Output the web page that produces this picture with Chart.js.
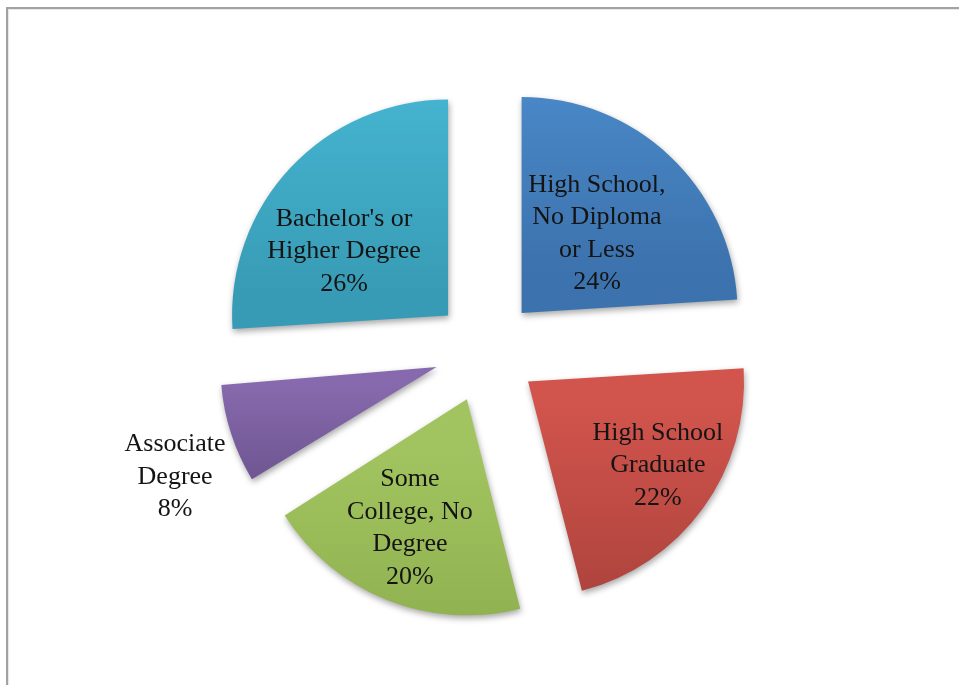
<!DOCTYPE html>
<html>
<head>
<meta charset="utf-8">
<script src="https://cdn.jsdelivr.net/npm/chart.js@4"></script>
<style>
  html, body { margin: 0; padding: 0; background: #ffffff; }
  #wrap { position: relative; width: 959px; height: 685px; overflow: hidden; background: #ffffff; }
  #frame { position: absolute; left: 6px; top: 7px; right: -10px; bottom: -10px;
           border-top: 2px solid #a2a2a2; border-left: 2px solid #a2a2a2;
           box-shadow: inset 1px 1px 1px rgba(0,0,0,0.10); }
  canvas { position: absolute; left: 0; top: 0; }
</style>
</head>
<body>
<div id="wrap">
  <div id="frame"></div>
  <canvas id="chart" width="959" height="685"></canvas>
</div>
<script>
// Educational attainment shares, clockwise from 12 o'clock
const categories = [
  ["High School,", "No Diploma", "or Less"],
  ["High School", "Graduate"],
  ["Some", "College, No", "Degree"],
  ["Associate", "Degree"],
  ["Bachelor's or", "Higher Degree"]
];
const shares = [24, 22, 20, 8, 26];

// slice fills: light at the top edge, deeper towards the bottom
const sliceTop    = ['#4b8bcb', '#d2554d', '#a2c460', '#876aad', '#47b8d4'];
const sliceBottom = ['#3c72ad', '#a9413b', '#8cad4c', '#6a518c', '#389bb5'];

// label placement around each exploded slice: angle turn (deg) and reach (share of radius)
const labelTurn  = [0.3, -3.2, 2.2, -4.8, -11.7];
const labelReach = [0.507, 0.715, 0.653, 1.313, 0.565];

const RADIUS = 216;   // pie radius in px
const PUSH = 52;      // how far each slice is pulled out from the centre
const LINE = 32.5;    // label line spacing

const pieDressing = {
  id: 'pieDressing',
  beforeDatasetsDraw(chart) {
    const ctx = chart.ctx;
    chart.getDatasetMeta(0).data.forEach((arc, i) => {
      // Chart.js grows narrow exploded slices; keep every slice at the same radius
      const fix = 1 - Math.sin(Math.min(Math.PI, arc.circumference));
      arc.outerRadius = RADIUS - PUSH * fix;
      const mid = (arc.startAngle + arc.endAngle) / 2;
      const cy = arc.y + Math.sin(mid) * PUSH;
      let ymin = cy, ymax = cy;
      for (let k = 0; k <= 24; k++) {
        const a = arc.startAngle + (arc.endAngle - arc.startAngle) * k / 24;
        const y = cy + Math.sin(a) * RADIUS;
        ymin = Math.min(ymin, y); ymax = Math.max(ymax, y);
      }
      const g = ctx.createLinearGradient(0, ymin, 0, ymax);
      g.addColorStop(0, sliceTop[i]);
      g.addColorStop(1, sliceBottom[i]);
      arc.options.backgroundColor = g;
    });
    ctx.save();
    ctx.shadowColor = 'rgba(0,0,0,0.35)';
    ctx.shadowBlur = 6;
    ctx.shadowOffsetX = 1;
    ctx.shadowOffsetY = 3;
  },
  afterDatasetsDraw(chart) {
    const ctx = chart.ctx;
    ctx.restore();
    const data = chart.data.datasets[0].data;
    const total = data.reduce((s, v) => s + v, 0);
    ctx.save();
    ctx.font = '26px "Liberation Serif", "Times New Roman", serif';
    ctx.fillStyle = '#141414';
    ctx.textAlign = 'center';
    ctx.textBaseline = 'middle';
    chart.getDatasetMeta(0).data.forEach((arc, i) => {
      const mid = (arc.startAngle + arc.endAngle) / 2;
      const ox = arc.x + Math.cos(mid) * PUSH;
      const oy = arc.y + Math.sin(mid) * PUSH;
      const a = mid + labelTurn[i] * Math.PI / 180;
      const r = labelReach[i] * RADIUS;
      const lx = ox + Math.cos(a) * r;
      const ly = oy + Math.sin(a) * r;
      const lines = chart.data.labels[i].concat([Math.round(data[i] / total * 100) + '%']);
      lines.forEach((s, k) => ctx.fillText(s, lx, ly + (k - (lines.length - 1) / 2) * LINE));
    });
    ctx.restore();
  }
};

new Chart(document.getElementById('chart'), {
  type: 'pie',
  data: {
    labels: categories,
    datasets: [{
      data: shares,
      backgroundColor: sliceTop,
      borderWidth: 0,
      offset: PUSH * 4,
      hoverOffset: PUSH * 4
    }]
  },
  options: {
    responsive: false,
    animation: false,
    radius: RADIUS,
    layout: { padding: { left: 13, top: 17, right: 0, bottom: 0 } },
    events: [],
    plugins: {
      legend: { display: false },
      tooltip: { enabled: false },
      title: { display: false }
    }
  },
  plugins: [pieDressing]
});
</script>
</body>
</html>
